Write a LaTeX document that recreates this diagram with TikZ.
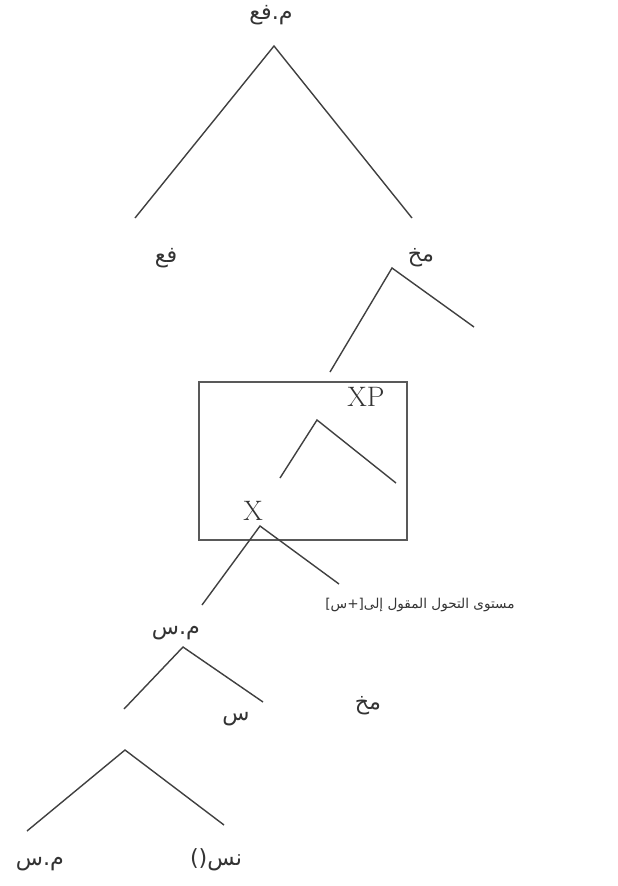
\documentclass[tikz,border=0pt]{standalone}
\usepackage{fontspec}
\newfontfamily\arabicfont[Script=Arabic]{DejaVu Sans}
\TeXXeTstate=1
\usetikzlibrary{positioning}

\begin{document}
\begin{tikzpicture}[
  x=0.03cm, y=-0.03cm,
  every node/.style={inner sep=1pt, text=black!80},
  lbl/.style={font=\arabicfont\fontsize{19}{22}\selectfont},
  note/.style={font=\arabicfont\fontsize{11.6}{14}\selectfont},
  latin/.style={font=\rmfamily\fontsize{24}{28}\selectfont},
  branch/.style={draw=black!75, line width=1.2pt},
]
  \useasboundingbox (0,0) rectangle (618,886);
  % upper tree
  \node[lbl] (vp)  at (271, 15)  {\beginR م.فع\endR};
  \coordinate (a1) at (274, 46);
  \coordinate (a1l) at (135, 218);
  \coordinate (a1r) at (412, 218);
  \node[lbl] (v)   at (166, 258) {\beginR فع\endR};
  \node[lbl] (mk1) at (421, 258) {\beginR مخ\endR};
  \coordinate (a2) at (392, 268);
  \coordinate (a2l) at (330, 372);
  \coordinate (a2r) at (474, 327);
  \draw[branch] (a1l) -- (a1) -- (a1r);
  \draw[branch] (a2l) -- (a2) -- (a2r);
  % boxed XP
  \node[draw=black!65, line width=1pt, minimum width=208*0.03cm,
        minimum height=158*0.03cm, inner sep=0pt] (box) at (303, 461) {};
  \node[latin] (xp) at (366, 397) {XP};
  \coordinate (a3) at (317, 420);
  \coordinate (a3l) at (280, 478);
  \coordinate (a3r) at (396, 483);
  \draw[branch] (a3l) -- (a3) -- (a3r);
  \node[latin] (x) at (253, 511) {X};
  \coordinate (a4) at (260, 526);
  \coordinate (a4l) at (202, 605);
  \coordinate (a4r) at (339, 584);
  \draw[branch] (a4l) -- (a4) -- (a4r);
  \node[note, anchor=west] (lev) at (324, 605)
    {\beginR مستوى التحول المقول إلى[+س]\endR};
  % lower trees
  \node[lbl] (np1) at (176, 633) {\beginR م.س\endR};
  \coordinate (a5) at (183, 647);
  \coordinate (a5l) at (124, 709);
  \coordinate (a5r) at (263, 702);
  \draw[branch] (a5l) -- (a5) -- (a5r);
  \node[lbl] (n1)  at (236, 719) {\beginR س\endR};
  \node[lbl] (mk2) at (368, 706) {\beginR مخ\endR};
  \coordinate (a6) at (125, 750);
  \coordinate (a6l) at (27, 831);
  \coordinate (a6r) at (224, 825);
  \draw[branch] (a6l) -- (a6) -- (a6r);
  \node[lbl] (np2) at (40, 864)  {\beginR م.س\endR};
  \node[lbl] (ns)  at (216, 860) {\beginR نس()\endR};
\end{tikzpicture}
\end{document}
